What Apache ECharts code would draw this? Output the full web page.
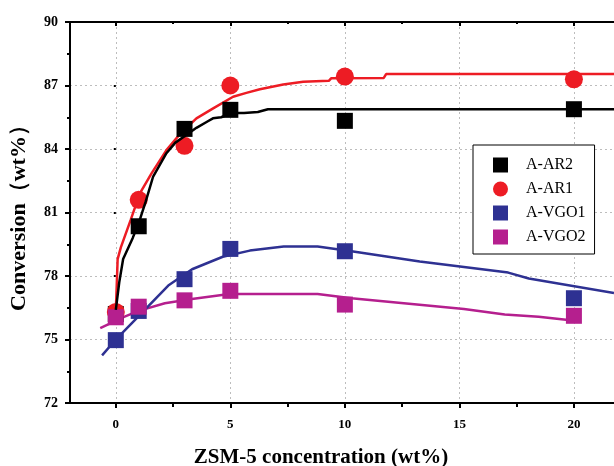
<!DOCTYPE html>
<html>
<head>
<meta charset="utf-8">
<script src="https://cdn.jsdelivr.net/npm/echarts@6/dist/echarts.min.js"></script>
<style>html,body{margin:0;padding:0;background:#fff}#c{width:614px;height:466px}</style>
</head>
<body>
<div id="c"></div>
<script>
// ---- data ----
const xTicks = [0, 5, 10, 15, 20];
const xMinorTicks = [2.5, 7.5, 12.5, 17.5];
const seriesNames = ['A-AR2', 'A-AR1', 'A-VGO1', 'A-VGO2'];

const arAR2 = [[0, 76.2], [1, 80.35], [3, 84.95], [5, 85.85], [10, 85.33], [20, 85.88]];
const arAR1 = [[0, 76.3], [1, 81.6], [3, 84.15], [5, 87.0], [10, 87.42], [20, 87.29]];
const vgo1 = [[0, 74.97], [1, 76.35], [3, 77.85], [5, 79.28], [10, 79.17], [20, 76.95]];
const vgo2 = [[0, 76.05], [1, 76.55], [3, 76.85], [5, 77.3], [10, 76.65], [20, 76.12]];

const fitAR2 = [[0, 76.4], [0.15, 77.7], [0.32, 78.8], [0.74, 79.8], [1.0, 80.5], [1.3, 81.5], [1.63, 82.7],
  [2.0, 83.4], [2.21, 83.8], [2.6, 84.3], [3.0, 84.6], [3.52, 85.0], [4.0, 85.3], [4.24, 85.45], [4.6, 85.5],
  [5.05, 85.7], [5.6, 85.7], [6.2, 85.75], [6.64, 85.88], [21.75, 85.88]];
const fitAR1 = [[0, 76.3], [0.08, 78.8], [0.22, 79.35], [0.65, 80.65], [1.05, 81.9], [1.56, 82.85], [2.21, 83.95],
  [2.8, 84.7], [3.52, 85.45], [4.25, 85.92], [5.12, 86.47], [5.7, 86.65], [6.29, 86.82], [7.31, 87.05],
  [8.18, 87.18], [9.3, 87.22], [9.4, 87.34], [11.7, 87.36], [11.8, 87.54], [21.75, 87.54]];
const fitVGO1 = [[-0.6, 74.25], [0, 75.0], [0.36, 75.4], [1.0, 76.1], [1.4, 76.55], [2.29, 77.55], [3.33, 78.32],
  [4.67, 78.91], [5.85, 79.2], [7.33, 79.39], [8.81, 79.39], [10.29, 79.17], [13.27, 78.69], [17.13, 78.16],
  [18.03, 77.88], [21.75, 77.2]];
const fitVGO2 = [[-0.68, 75.54], [0.36, 76.07], [1.0, 76.35], [2.14, 76.71], [3.32, 76.91], [4.96, 77.15],
  [8.81, 77.15], [10.29, 76.95], [15.2, 76.44], [16.98, 76.18], [18.46, 76.07], [20.25, 75.86]];

const colors = ['#000000', '#ed1c24', '#2e3192', '#b51f8e'];
const FONT = "'Times New Roman', 'Liberation Serif', serif";

const chart = echarts.init(document.getElementById('c'), null, {renderer: 'canvas'});
const X_MIN = -2, X_MAX = 21.75;
const axisLineStyle = {color: '#000', width: 2};
const gridLine = {show: true, lineStyle: {color: '#bdbdbd', width: 1, type: [2, 3]}};

function scatter(name, data, color, symbol, size) {
  return {name, type: 'scatter', data, symbol, symbolSize: size, itemStyle: {color, opacity: 1}, z: 5,
    xAxisIndex: 0, yAxisIndex: 0};
}
function fitLine(name, data, color, z) {
  return {name: name + ' fit', type: 'line', data, showSymbol: false, symbol: 'none',
    lineStyle: {color, width: 2.5}, z: z, xAxisIndex: 0, yAxisIndex: 0, animation: false};
}

chart.setOption({
  animation: false,
  grid: {left: 70, right: 0, top: 22, bottom: 63, containLabel: false, outerBoundsMode: 'none'},
  legend: {
    data: [{name: seriesNames[0], icon: 'rect'}, {name: seriesNames[1], icon: 'circle'},
           {name: seriesNames[2], icon: 'rect'}, {name: seriesNames[3], icon: 'rect'}],
    orient: 'vertical', left: 473, top: 145, itemWidth: 15, itemHeight: 15, itemGap: 8,
    padding: [12, 9, 9, 20], borderColor: '#000', borderWidth: 1, backgroundColor: '#fff',
    textStyle: {fontFamily: FONT, fontSize: 16, color: '#000', padding: [0, 0, 0, 13]},
    selectedMode: false
  },
  xAxis: [
    {type: 'value', min: X_MIN, max: X_MAX, position: 'bottom',
     name: 'ZSM-5 concentration (wt%)', nameLocation: 'middle', nameGap: 44,
     nameTextStyle: {fontFamily: FONT, fontSize: 21, fontWeight: 'bold', color: '#000', padding: [0, 42, 0, 0]},
     axisLine: {show: true, onZero: false, lineStyle: axisLineStyle},
     axisTick: {show: true, customValues: xTicks, length: 5, lineStyle: {width: 2, color: '#000'}},
     axisLabel: {customValues: xTicks, fontFamily: FONT, fontSize: 13, fontWeight: 'bold', color: '#000', margin: 15},
     splitLine: gridLine},
    {type: 'value', min: X_MIN, max: X_MAX, position: 'bottom',
     axisLine: {show: false}, axisTick: {show: true, customValues: xMinorTicks, length: 4, lineStyle: {width: 2, color: '#000'}},
     axisLabel: {show: false, customValues: xMinorTicks}, splitLine: {show: false}},
    {type: 'value', min: X_MIN, max: X_MAX, position: 'top',
     axisLine: {show: true, onZero: false, lineStyle: axisLineStyle},
     axisTick: {show: true, inside: true, customValues: xTicks, length: 4, lineStyle: {width: 2, color: '#000'}},
     axisLabel: {show: false, customValues: xTicks}, splitLine: {show: false}},
    {type: 'value', min: X_MIN, max: X_MAX, position: 'top',
     axisLine: {show: false},
     axisTick: {show: true, inside: true, customValues: xMinorTicks, length: 2, lineStyle: {width: 2, color: '#000'}},
     axisLabel: {show: false, customValues: xMinorTicks}, splitLine: {show: false}}
  ],
  yAxis: [
    {type: 'value', min: 72, max: 90, interval: 3, position: 'left',
     name: 'Conversion（wt%）', nameLocation: 'middle', nameGap: 40, nameRotate: 90,
     nameTextStyle: {fontFamily: FONT, fontSize: 22, fontWeight: 'bold', color: '#000'},
     axisLine: {show: true, onZero: false, lineStyle: axisLineStyle},
     axisTick: {show: true, length: 5, lineStyle: {width: 2, color: '#000'}},
     minorTick: {show: true, splitNumber: 2, length: 3, lineStyle: {width: 2, color: '#000'}},
     axisLabel: {fontFamily: FONT, fontSize: 14, fontWeight: 'bold', color: '#000', margin: 12},
     splitLine: gridLine},
    {type: 'value', min: 72, max: 90, interval: 3, position: 'right',
     axisLine: {show: false},
     axisTick: {show: true, inside: true, length: 2, lineStyle: {width: 2, color: '#000'}},
     axisLabel: {show: false}, splitLine: {show: false}}
  ],
  series: [
    fitLine(seriesNames[3], fitVGO2, colors[3], 2),
    fitLine(seriesNames[2], fitVGO1, colors[2], 3),
    fitLine(seriesNames[1], fitAR1, colors[1], 3),
    scatter(seriesNames[0], arAR2, colors[0], 'rect', 16),
    scatter(seriesNames[1], arAR1, colors[1], 'circle', 18),
    scatter(seriesNames[2], vgo1, colors[2], 'rect', 16),
    scatter(seriesNames[3], vgo2, colors[3], 'rect', 16),
    fitLine(seriesNames[0], fitAR2, colors[0], 6)
  ]
});
</script>
</body>
</html>
